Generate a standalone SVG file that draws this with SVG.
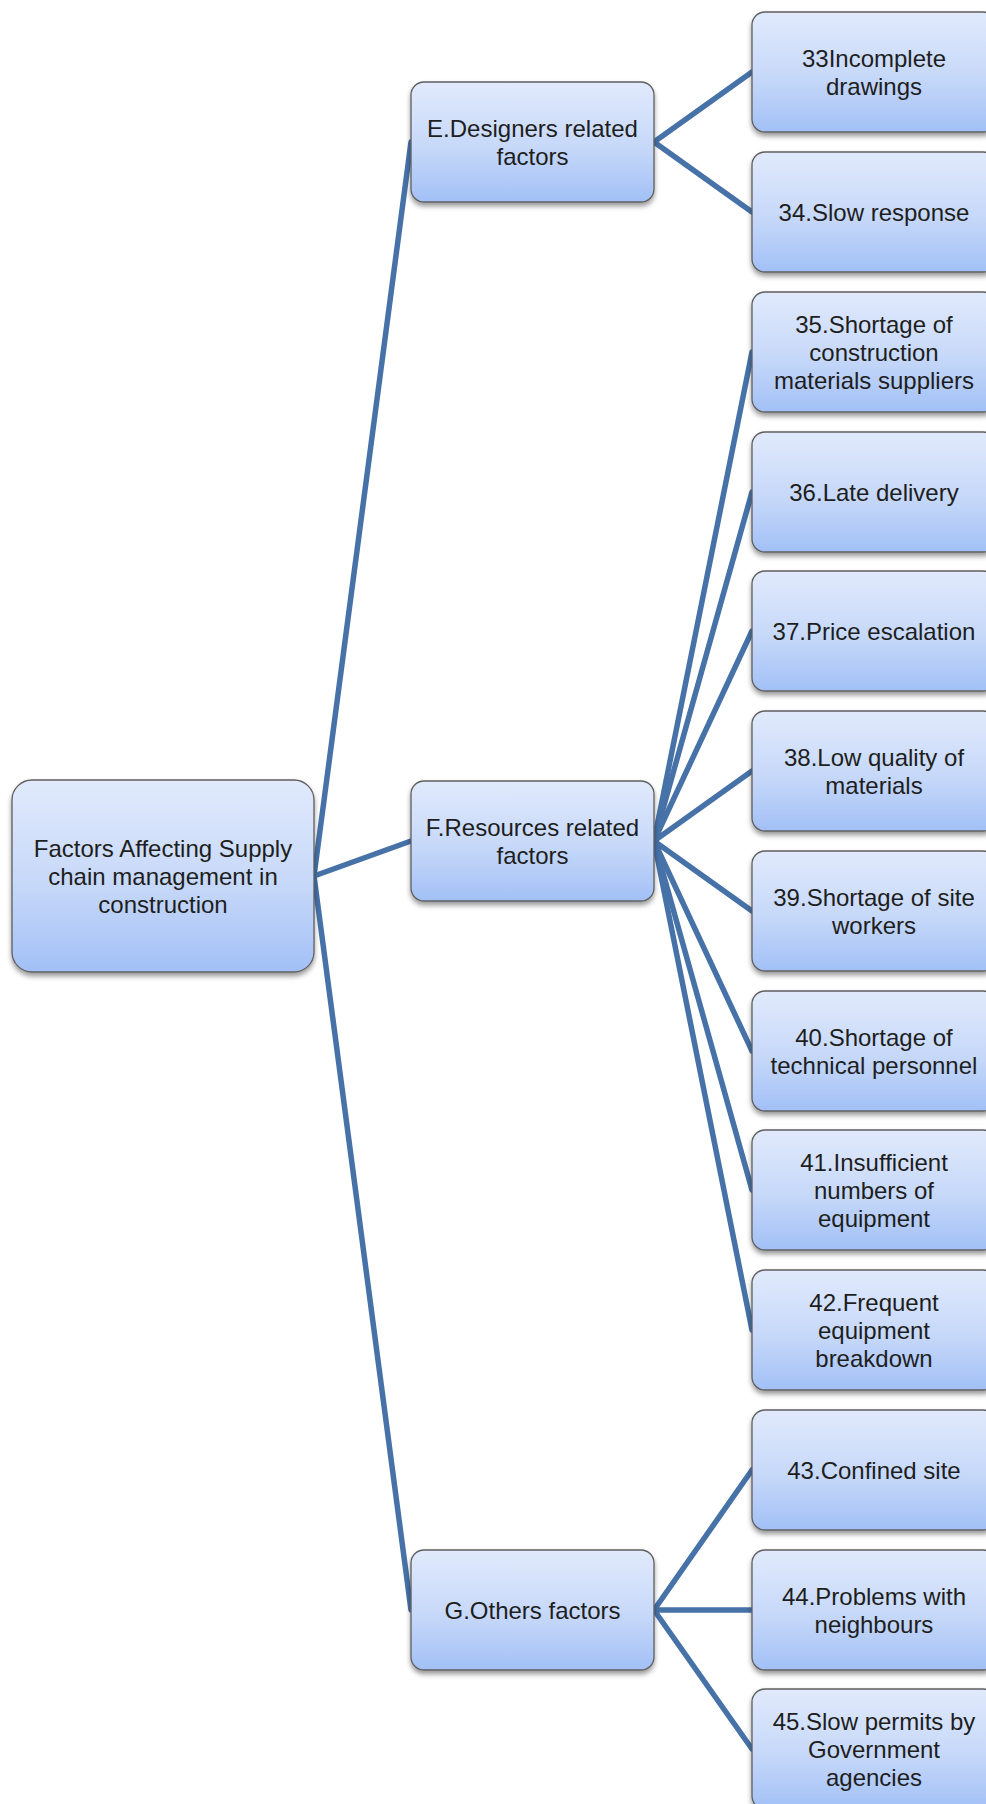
<svg xmlns="http://www.w3.org/2000/svg" width="986" height="1804" viewBox="0 0 986 1804">
<defs>
<linearGradient id="g" x1="0" y1="0" x2="0" y2="1">
<stop offset="0" stop-color="#e1eafc"/>
<stop offset="0.55" stop-color="#c6d8f9"/>
<stop offset="1" stop-color="#a2c0f6"/>
</linearGradient>
<filter id="sh" x="-10%" y="-10%" width="120%" height="130%">
<feDropShadow dx="0" dy="3.5" stdDeviation="2.5" flood-color="#000" flood-opacity="0.4"/>
</filter>
<style>
.box{fill:url(#g);stroke:#5f5f5f;stroke-width:1.3;filter:url(#sh)}
.lbl{font-family:"Liberation Sans",Arial,sans-serif;font-size:24px;fill:#1e1e1e;text-anchor:middle}
.conn line{stroke:#4672a8;stroke-width:5.5;stroke-linecap:round}
</style>
</defs>
<rect width="986" height="1804" fill="#ffffff"/>
<g class="conn" id="connectors">
<line x1="314" y1="876" x2="411" y2="142"/>
<line x1="314" y1="876" x2="411" y2="841"/>
<line x1="314" y1="876" x2="411" y2="1610"/>
<line x1="654" y1="142" x2="752" y2="72"/>
<line x1="654" y1="142" x2="752" y2="212"/>
<line x1="654" y1="841" x2="752" y2="352"/>
<line x1="654" y1="841" x2="752" y2="492"/>
<line x1="654" y1="841" x2="752" y2="631"/>
<line x1="654" y1="841" x2="752" y2="771"/>
<line x1="654" y1="841" x2="752" y2="911"/>
<line x1="654" y1="841" x2="752" y2="1051"/>
<line x1="654" y1="841" x2="752" y2="1190"/>
<line x1="654" y1="841" x2="752" y2="1330"/>
<line x1="654" y1="1610" x2="752" y2="1470"/>
<line x1="654" y1="1610" x2="752" y2="1610"/>
<line x1="654" y1="1610" x2="752" y2="1749"/>
</g>
<g id="root">
<rect class="box" x="12" y="780" width="302" height="192" rx="20"/>
<text class="lbl"><tspan x="163" y="856.5">Factors Affecting Supply</tspan><tspan x="163" y="884.5">chain management in</tspan><tspan x="163" y="912.5">construction</tspan></text>
</g>
<g id="nodeE">
<rect class="box" x="411" y="82" width="243" height="120" rx="13"/>
<text class="lbl"><tspan x="532.5" y="136.5">E.Designers related</tspan><tspan x="532.5" y="164.5">factors</tspan></text>
</g>
<g id="nodeF">
<rect class="box" x="411" y="781" width="243" height="120" rx="13"/>
<text class="lbl"><tspan x="532.5" y="835.5">F.Resources related</tspan><tspan x="532.5" y="863.5">factors</tspan></text>
</g>
<g id="nodeG">
<rect class="box" x="411" y="1550" width="243" height="120" rx="13"/>
<text class="lbl"><tspan x="532.5" y="1618.5">G.Others factors</tspan></text>
</g>
<g id="n33">
<rect class="box" x="752" y="12" width="244" height="120" rx="13"/>
<text class="lbl"><tspan x="874" y="66.5">33Incomplete</tspan><tspan x="874" y="94.5">drawings</tspan></text>
</g>
<g id="n34">
<rect class="box" x="752" y="152" width="244" height="120" rx="13"/>
<text class="lbl"><tspan x="874" y="220.5">34.Slow response</tspan></text>
</g>
<g id="n35">
<rect class="box" x="752" y="292" width="244" height="120" rx="13"/>
<text class="lbl"><tspan x="874" y="332.5">35.Shortage of</tspan><tspan x="874" y="360.5">construction</tspan><tspan x="874" y="388.5">materials suppliers</tspan></text>
</g>
<g id="n36">
<rect class="box" x="752" y="432" width="244" height="120" rx="13"/>
<text class="lbl"><tspan x="874" y="500.5">36.Late delivery</tspan></text>
</g>
<g id="n37">
<rect class="box" x="752" y="571" width="244" height="120" rx="13"/>
<text class="lbl"><tspan x="874" y="639.5">37.Price escalation</tspan></text>
</g>
<g id="n38">
<rect class="box" x="752" y="711" width="244" height="120" rx="13"/>
<text class="lbl"><tspan x="874" y="765.5">38.Low quality of</tspan><tspan x="874" y="793.5">materials</tspan></text>
</g>
<g id="n39">
<rect class="box" x="752" y="851" width="244" height="120" rx="13"/>
<text class="lbl"><tspan x="874" y="905.5">39.Shortage of site</tspan><tspan x="874" y="933.5">workers</tspan></text>
</g>
<g id="n40">
<rect class="box" x="752" y="991" width="244" height="120" rx="13"/>
<text class="lbl"><tspan x="874" y="1045.5">40.Shortage of</tspan><tspan x="874" y="1073.5">technical personnel</tspan></text>
</g>
<g id="n41">
<rect class="box" x="752" y="1130" width="244" height="120" rx="13"/>
<text class="lbl"><tspan x="874" y="1170.5">41.Insufficient</tspan><tspan x="874" y="1198.5">numbers of</tspan><tspan x="874" y="1226.5">equipment</tspan></text>
</g>
<g id="n42">
<rect class="box" x="752" y="1270" width="244" height="120" rx="13"/>
<text class="lbl"><tspan x="874" y="1310.5">42.Frequent</tspan><tspan x="874" y="1338.5">equipment</tspan><tspan x="874" y="1366.5">breakdown</tspan></text>
</g>
<g id="n43">
<rect class="box" x="752" y="1410" width="244" height="120" rx="13"/>
<text class="lbl"><tspan x="874" y="1478.5">43.Confined site</tspan></text>
</g>
<g id="n44">
<rect class="box" x="752" y="1550" width="244" height="120" rx="13"/>
<text class="lbl"><tspan x="874" y="1604.5">44.Problems with</tspan><tspan x="874" y="1632.5">neighbours</tspan></text>
</g>
<g id="n45">
<rect class="box" x="752" y="1689" width="244" height="120" rx="13"/>
<text class="lbl"><tspan x="874" y="1729.5">45.Slow permits by</tspan><tspan x="874" y="1757.5">Government</tspan><tspan x="874" y="1785.5">agencies</tspan></text>
</g>
</svg>
